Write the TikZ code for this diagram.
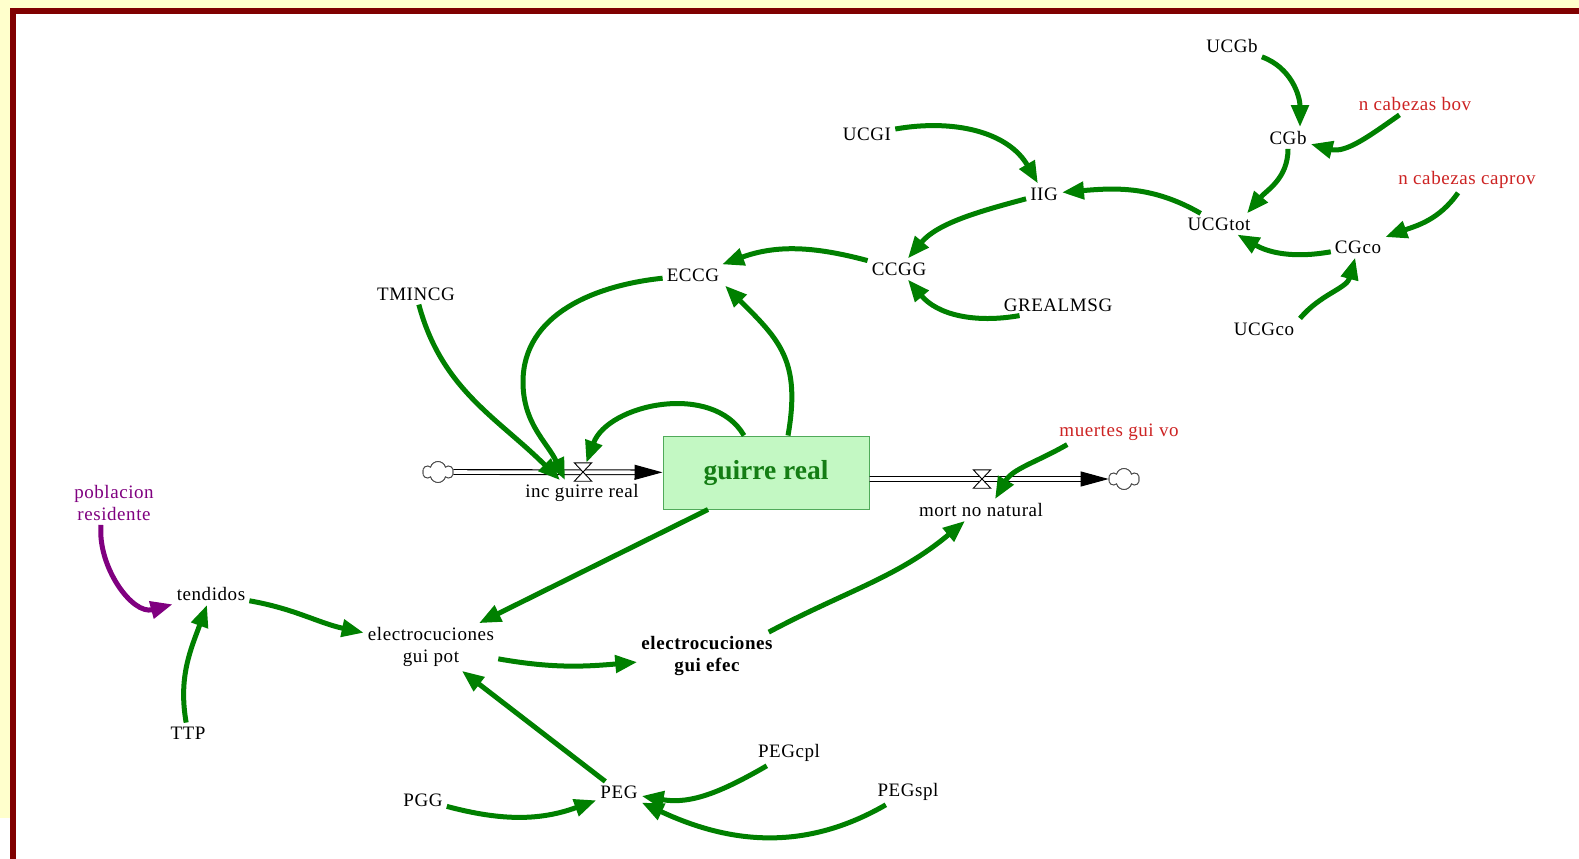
\documentclass[tikz,border=0pt]{standalone}
\usepackage{fontspec}
\setmainfont{Liberation Serif}
\newfontfamily\vfont[LetterSpace=3]{Liberation Serif}
\usetikzlibrary{arrows.meta,shapes.symbols}
\definecolor{linkgreen}{RGB}{0,128,0}
\definecolor{stockfill}{RGB}{195,248,195}
\definecolor{stockedge}{RGB}{80,170,90}
\definecolor{stocktext}{RGB}{20,125,20}
\definecolor{extred}{RGB}{205,35,35}
\definecolor{popviolet}{RGB}{128,0,128}
\definecolor{paper}{RGB}{255,255,204}
\definecolor{framered}{RGB}{128,0,0}
\tikzset{
  var/.style={font=\vfont\fontsize{19pt}{22pt}\selectfont, inner sep=4pt, align=center, text=black},
  ext/.style={var, text=extred},
  pop/.style={var, text=popviolet},
  link/.style={draw=linkgreen, line width=5pt, -{Triangle[length=22pt,width=17pt]}},
  poplink/.style={link, draw=popviolet},
  pipe/.style={draw=black, line width=1.1pt, double=white, double distance=3.6pt, -{Triangle[length=28pt,width=15pt]}},
  sourcesink/.style={cloud, cloud puffs=6, aspect=1.5, draw=black!70, fill=white, line width=0.9pt,
    minimum width=30pt, minimum height=21pt, inner sep=0pt},
  valvebox/.style={minimum width=17pt, minimum height=18pt, inner sep=0pt},
  valveline/.style={draw=black, fill=white, line width=0.9pt},
  stockbox/.style={draw=stockedge, fill=stockfill, line width=1pt, minimum width=206pt, minimum height=73pt,
    font=\bfseries\fontsize{27.5pt}{31pt}\selectfont, text=stocktext},
}
\begin{document}
\begin{tikzpicture}[x=1pt,y=-1pt]
\useasboundingbox (0,0) rectangle (1579,859);
% page and frame
\fill[paper] (0,0) rectangle (1579,859);
\fill[white] (0,818) rectangle (10,859);
\fill[framered] (10,8) rectangle (1579,859);
\fill[white] (16,14) rectangle (1579,859);

% stock, clouds and valves
\node[sourcesink] (cloudL) at (438,472) {};
\node[sourcesink] (cloudR) at (1124,479) {};
\node[stockbox] (box) at (766,472.5) {guirre real};
\node[valvebox] (v1) at (583,472) {};
\node[valvebox] (v2) at (982,479) {};

% flow pipes
\draw[pipe] (cloudL) -- (box);
\draw[pipe] (box.east |- cloudR) -- (cloudR);
\draw[valveline] (v1.north west) -- (v1.north east) -- (v1.south west) -- (v1.south east) -- cycle;
\draw[valveline] (v2.north west) -- (v2.north east) -- (v2.south west) -- (v2.south east) -- cycle;
\node[sourcesink] at (cloudL) {};
\node[sourcesink] at (cloudR) {};

% variables
\node[var] (UCGb) at (1232,46) {UCGb};
\node[ext] (bov) at (1415,104) {n cabezas bov};
\node[var] (CGb) at (1288,138) {CGb};
\node[ext] (caprov) at (1467,180) {n cabezas caprov};
\node[var] (UCGI) at (867,134) {UCGI};
\node[var] (IIG) at (1044,194) {IIG};
\node[var] (UCGtot) at (1219,224) {UCGtot};
\node[var] (CGco) at (1358,247) {CGco};
\node[var] (ECCG) at (693,275) {ECCG};
\node[var] (CCGG) at (899,269) {CCGG};
\node[var] (TMINCG) at (416,294) {TMINCG};
\node[var] (GREALMSG) at (1058,305) {GREALMSG};
\node[var] (UCGco) at (1264,329) {UCGco};
\node[ext] (muertes) at (1119,432) {muertes gui vo};
\node[var] (inc) at (582,493) {inc guirre real};
\node[var] (mort) at (981,510) {mort no natural};
\node[pop] (pobl) at (114,503) {poblacion\\residente};
\node[var] (tendidos) at (211,594) {tendidos};
\node[var] (pot) at (431,647) {electrocuciones\\gui pot};
\node[var, font=\vfont\bfseries\fontsize{19pt}{22pt}\selectfont] (efec) at (707,656) {electrocuciones\\gui efec};
\node[var] (TTP) at (188,733) {TTP};
\node[var] (PEGcpl) at (789,753) {PEGcpl};
\node[var] (PEG) at (619,792) {PEG};
\node[var] (PGG) at (423,800) {PGG};
\node[var] (PEGspl) at (908,792) {PEGspl};

% waypoint of the wide ECCG loop
\coordinate (eccgloop) at (523,382);

% causal links
\draw[link] (UCGb) to[out=-20,in=90] ([xshift=12pt]CGb.north);
\draw[link] (bov) to[out=-145,in=-15] (CGb);
\draw[link] (CGb) to[out=-90,in=50] ([xshift=28pt]UCGtot.north);
\draw[link] (caprov) to[out=-125,in=20] (CGco);
\draw[link] (CGco) to[out=-170,in=-30] (UCGtot);
\draw[link] ([xshift=36pt]UCGco.north) to[out=50,in=-105] (CGco);
\draw[link] (UCGtot) to[out=150,in=5] (IIG);
\draw[link] (UCGI) to[out=10,in=120] (IIG);
\draw[link] (IIG) to[out=-165,in=50,looseness=0.9] (CCGG);
\draw[link] ([xshift=20pt]GREALMSG.south west) to[out=190,in=-50] (CCGG);
\draw[link] (CCGG) to[out=165,in=20] (ECCG);
\draw[link] (ECCG) to[out=186,in=90] (eccgloop) to[out=-90,in=115] ([xshift=-17pt]inc.north);
\draw[link] ([xshift=22pt]box.north) to[out=80,in=-45,looseness=1.2] ([xshift=32pt]ECCG.south);
\draw[link] ([xshift=-22pt]box.north) to[out=120,in=70] (v1);
\draw[link] (TMINCG) to[out=-75,in=135] ([xshift=-22pt]inc.north);
\draw[link] ([xshift=12pt]muertes.south west) to[out=-150,in=60] ([xshift=14pt]mort.north);
\draw[link] ([xshift=-58pt]box.south) -- (pot);
\draw[link] ([xshift=-8pt]efec.north east) to[out=28,in=-140] ([xshift=-16pt]mort.south);
\draw[poplink] ([xshift=-13pt]pobl.south) to[out=-95,in=195] (tendidos);
\draw[link] (TTP) to[out=100,in=-110] (tendidos);
\draw[link] (tendidos) to[out=-10,in=168] (pot);
\draw[link] (pot) to[out=-10,in=185] (efec);
\draw[link] (PEG) -- (pot);
\draw[link] (PGG) to[out=-15,in=200] (PEG);
\draw[link] (PEGcpl) to[out=-150,in=-10] (PEG);
\draw[link] (PEGspl) to[out=-150,in=-25] (PEG);
\end{tikzpicture}
\end{document}
